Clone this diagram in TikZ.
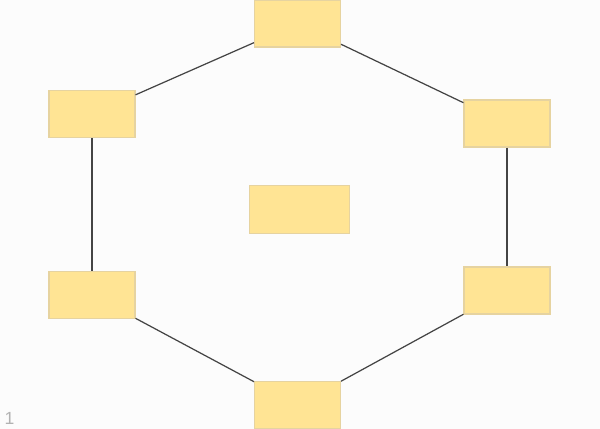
\documentclass[tikz,border=0pt]{standalone}
\usepackage{fontspec}
\setsansfont{Liberation Sans}
\definecolor{boxfill}{HTML}{FFE494}
\definecolor{boxline}{HTML}{E6D3A0}
\definecolor{bgcol}{HTML}{FCFCFC}
\definecolor{edgecol}{HTML}{444444}
\begin{document}
\begin{tikzpicture}[
  box/.style={draw=boxline,fill=boxfill,line width=0.6pt,minimum width=1.72cm,minimum height=0.94cm,inner sep=0pt},
  edge/.style={draw=edgecol,line width=0.7pt}]
\fill[bgcol] (0,0) rectangle (12,8.58);
\useasboundingbox (0,0) rectangle (12,8.58);
\node[box] (top) at (5.95,8.11) {};
\node[box] (lu) at (1.84,6.30) {};
\node[box] (ru) at (10.14,6.11) {};
\node[box,minimum width=2.0cm,minimum height=0.96cm] (mid) at (5.99,4.39) {};
\node[box] (ll) at (1.84,2.68) {};
\node[box] (rl) at (10.14,2.77) {};
\node[box] (bot) at (5.95,0.48) {};
\draw[edge] (top) -- (lu);
\draw[edge] (top) -- (ru);
\draw[edge] (lu) -- (ll);
\draw[edge] (ru) -- (rl);
\draw[edge] (ll) -- (bot);
\draw[edge] (rl) -- (bot);
\node[text=gray!60,font=\sffamily] (num) at (0.19,0.22) {1};
\end{tikzpicture}
\end{document}
